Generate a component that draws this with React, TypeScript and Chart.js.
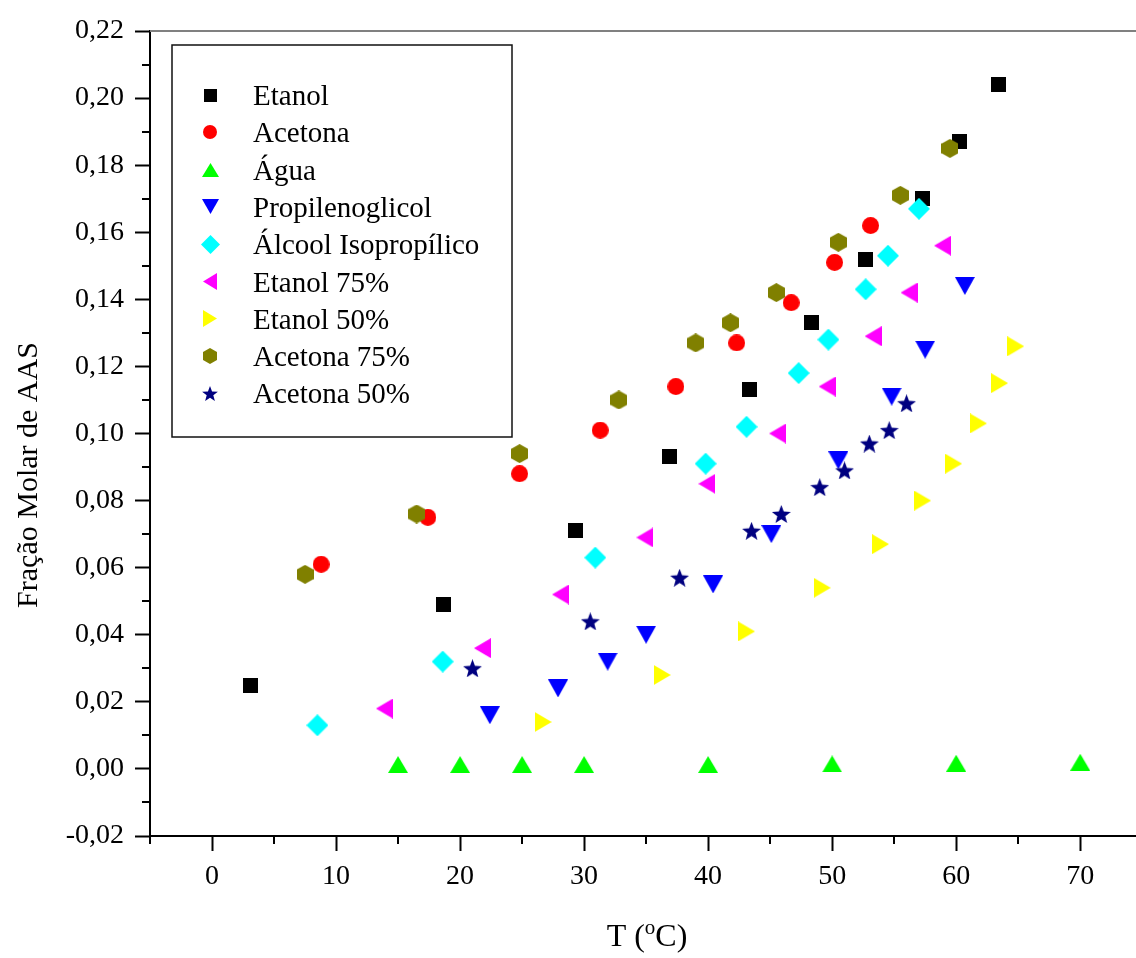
import React, { useEffect, useRef } from 'react';
import { Chart, registerables } from 'chart.js';

Chart.register(...registerables);

// ---------- data ----------
const seriesNames = [
  'Etanol',
  'Acetona',
  'Água',
  'Propilenoglicol',
  'Álcool Isopropílico',
  'Etanol 75%',
  'Etanol 50%',
  'Acetona 75%',
  'Acetona 50%',
];

const etanolX = [3.1, 18.7, 29.3, 36.9, 43.3, 48.3, 52.7, 57.3, 60.3, 63.4];
const etanolY = [0.025, 0.049, 0.071, 0.093, 0.113, 0.133, 0.152, 0.170, 0.187, 0.204];

const acetonaX = [8.8, 17.4, 24.8, 31.3, 37.4, 42.3, 46.7, 50.2, 53.1];
const acetonaY = [0.061, 0.075, 0.088, 0.101, 0.114, 0.127, 0.139, 0.151, 0.162];

const aguaX = [15, 20, 25, 30, 40, 50, 60, 70];
const aguaY = [0.0013, 0.0013, 0.0013, 0.0013, 0.0013, 0.0015, 0.0017, 0.002];

const propX = [22.4, 27.9, 31.9, 35.0, 40.4, 45.1, 50.5, 54.8, 57.5, 60.7];
const propY = [0.016, 0.024, 0.032, 0.040, 0.055, 0.070, 0.092, 0.111, 0.125, 0.144];

const isoX = [8.5, 18.6, 30.9, 39.8, 43.1, 47.3, 49.7, 52.7, 54.5, 57.0];
const isoY = [0.013, 0.032, 0.063, 0.091, 0.102, 0.118, 0.128, 0.143, 0.153, 0.167];

const etanol75X = [13.9, 21.8, 28.1, 34.9, 39.9, 45.6, 49.6, 53.3, 56.2, 58.9];
const etanol75Y = [0.018, 0.036, 0.052, 0.069, 0.085, 0.100, 0.114, 0.129, 0.142, 0.156];

const etanol50X = [26.7, 36.3, 43.1, 49.2, 53.9, 57.3, 59.8, 61.8, 63.5, 64.8];
const etanol50Y = [0.014, 0.028, 0.041, 0.054, 0.067, 0.080, 0.091, 0.103, 0.115, 0.126];

const acetona75X = [7.5, 16.5, 24.8, 32.8, 39.0, 41.8, 45.5, 50.5, 55.5, 59.5];
const acetona75Y = [0.058, 0.076, 0.094, 0.110, 0.127, 0.133, 0.142, 0.157, 0.171, 0.185];

const acetona50X = [21.0, 30.5, 37.7, 43.5, 45.9, 49.0, 51.0, 53.0, 54.6, 56.0];
const acetona50Y = [0.030, 0.044, 0.057, 0.071, 0.076, 0.084, 0.089, 0.097, 0.101, 0.109];

const seriesX = [etanolX, acetonaX, aguaX, propX, isoX, etanol75X, etanol50X, acetona75X, acetona50X];
const seriesY = [etanolY, acetonaY, aguaY, propY, isoY, etanol75Y, etanol50Y, acetona75Y, acetona50Y];
const seriesColors = ['#000000', '#ff0000', '#00ff00', '#0000ff', '#00ffff', '#ff00ff', '#ffff00', '#808000', '#000080'];
const seriesShapes = ['square', 'circle', 'up', 'down', 'diamond', 'left', 'right', 'hexagon', 'star'];

// tick values
const xMajorTicks = [0, 10, 20, 30, 40, 50, 60, 70];
const xMinorTicks = [-5, 5, 15, 25, 35, 45, 55, 65];
const yMajorTicks = [-0.02, 0, 0.02, 0.04, 0.06, 0.08, 0.1, 0.12, 0.14, 0.16, 0.18, 0.2, 0.22];
const yMinorTicks = [-0.01, 0.01, 0.03, 0.05, 0.07, 0.09, 0.11, 0.13, 0.15, 0.17, 0.19, 0.21];

const xTitleMain = 'T (';
const xTitleSup = 'o';
const xTitleEnd = 'C)';
const yTitle = 'Fração Molar de AAS';

const FONT = 'Liberation Serif';

// ---------- markers ----------
const markerDims: Record<string, [number, number]> = {
  square: [15, 15],
  circle: [17, 17],
  up: [20, 17],
  down: [20, 18],
  diamond: [22, 22],
  left: [17, 20],
  right: [17, 20],
  hexagon: [17, 19],
  star: [19, 18],
};

function makeMarker(shape: string, color: string, k: number): HTMLCanvasElement {
  const d = markerDims[shape];
  const w = Math.round(d[0] * k);
  const h = Math.round(d[1] * k);
  const c = document.createElement('canvas');
  c.width = w;
  c.height = h;
  const g = c.getContext('2d') as CanvasRenderingContext2D;
  g.fillStyle = color;
  g.beginPath();
  switch (shape) {
    case 'square':
      g.rect(0, 0, w, h);
      break;
    case 'circle':
      g.arc(w / 2, h / 2, w / 2, 0, Math.PI * 2);
      break;
    case 'up':
      g.moveTo(w / 2, 0);
      g.lineTo(w, h);
      g.lineTo(0, h);
      break;
    case 'down':
      g.moveTo(0, 0);
      g.lineTo(w, 0);
      g.lineTo(w / 2, h);
      break;
    case 'diamond':
      g.moveTo(w / 2, 0);
      g.lineTo(w, h / 2);
      g.lineTo(w / 2, h);
      g.lineTo(0, h / 2);
      break;
    case 'left':
      g.moveTo(0, h / 2);
      g.lineTo(w, 0);
      g.lineTo(w, h);
      break;
    case 'right':
      g.moveTo(0, 0);
      g.lineTo(w, h / 2);
      g.lineTo(0, h);
      break;
    case 'hexagon':
      g.moveTo(w / 2, 0);
      g.lineTo(w, h / 4);
      g.lineTo(w, (3 * h) / 4);
      g.lineTo(w / 2, h);
      g.lineTo(0, (3 * h) / 4);
      g.lineTo(0, h / 4);
      break;
    case 'star': {
      const R = h / (1 + Math.cos(Math.PI / 5));
      const r = R * 0.42;
      const cx = w / 2;
      const cy = R;
      for (let i = 0; i < 10; i++) {
        const rad = i % 2 === 0 ? R : r;
        const a = -Math.PI / 2 + (i * Math.PI) / 5;
        const px = cx + rad * Math.cos(a);
        const py = cy + rad * Math.sin(a);
        if (i === 0) g.moveTo(px, py);
        else g.lineTo(px, py);
      }
      break;
    }
  }
  g.closePath();
  g.fill();
  return c;
}

function fmtY(v: number): string {
  return v.toFixed(2).replace('.', ',');
}

function isMajorX(v: number) {
  return xMajorTicks.some((t) => Math.abs(t - v) < 1e-9);
}
function isMajorY(v: number) {
  return yMajorTicks.some((t) => Math.abs(t - v) < 1e-9);
}

export default function App() {
  const ref = useRef<HTMLCanvasElement | null>(null);

  useEffect(() => {
    if (!ref.current) return;
    const plotMarkers = seriesShapes.map((s, i) => makeMarker(s, seriesColors[i], 1));
    const legendMarkers = seriesShapes.map((s, i) => makeMarker(s, seriesColors[i], 0.85));

    const datasets = seriesNames.map((name, i) => ({
      label: name,
      data: seriesX[i].map((x, j) => ({ x, y: seriesY[i][j] })),
      pointStyle: plotMarkers[i] as any,
      pointRadius: 9,
      pointHoverRadius: 9,
      backgroundColor: seriesColors[i],
      borderColor: seriesColors[i],
      showLine: false,
      order: seriesNames.length - i,
    }));

    const stretch = {
      id: 'stretch',
      afterLayout(chart: any) {
        const xs = chart.scales.x;
        const ca = chart.chartArea;
        ca.right = chart.width;
        ca.width = ca.right - ca.left;
        xs.right = chart.width;
        xs.width = xs.right - xs.left;
        if (typeof xs.configure === 'function') xs.configure();
      },
    };

    const decor = {
      id: 'decor',
      afterDraw(chart: any) {
        const { ctx, chartArea: ca, scales } = chart;
        const xs = scales.x;
        const ys = scales.y;
        ctx.save();
        // top frame line
        ctx.strokeStyle = '#808080';
        ctx.lineWidth = 2;
        ctx.beginPath();
        ctx.moveTo(ca.left, ca.top);
        ctx.lineTo(chart.width, ca.top);
        ctx.stroke();
        // minor ticks
        ctx.strokeStyle = '#000';
        ctx.lineWidth = 2;
        xMinorTicks.forEach((v) => {
          const px = Math.round(xs.getPixelForValue(v));
          ctx.beginPath();
          ctx.moveTo(px, ca.bottom);
          ctx.lineTo(px, ca.bottom + 8);
          ctx.stroke();
        });
        yMinorTicks.forEach((v) => {
          const py = Math.round(ys.getPixelForValue(v));
          ctx.beginPath();
          ctx.moveTo(ca.left, py);
          ctx.lineTo(ca.left - 8, py);
          ctx.stroke();
        });
        // y title
        ctx.fillStyle = '#000';
        ctx.font = `30px "${FONT}"`;
        ctx.textAlign = 'center';
        ctx.textBaseline = 'alphabetic';
        ctx.save();
        ctx.translate(37, 475);
        ctx.rotate(-Math.PI / 2);
        ctx.fillText(yTitle, 0, 0);
        ctx.restore();
        // x title with superscript
        ctx.textAlign = 'left';
        const big = `32px "${FONT}"`;
        const small = `21px "${FONT}"`;
        ctx.font = big;
        const w1 = ctx.measureText(xTitleMain).width;
        const w3 = ctx.measureText(xTitleEnd).width;
        ctx.font = small;
        const w2 = ctx.measureText(xTitleSup).width;
        const total = w1 + w2 + w3;
        let tx = 647 - total / 2;
        const base = 946;
        ctx.font = big;
        ctx.fillText(xTitleMain, tx, base);
        tx += w1;
        ctx.font = small;
        ctx.fillText(xTitleSup, tx, base - 12);
        tx += w2;
        ctx.font = big;
        ctx.fillText(xTitleEnd, tx, base);
        // legend
        const lx = 172, ly = 45, lw = 340, lh = 392;
        ctx.fillStyle = '#fff';
        ctx.fillRect(lx, ly, lw, lh);
        ctx.strokeStyle = '#111';
        ctx.lineWidth = 1.5;
        ctx.strokeRect(lx, ly, lw, lh);
        ctx.font = `29px "${FONT}"`;
        ctx.fillStyle = '#000';
        ctx.textAlign = 'left';
        ctx.textBaseline = 'alphabetic';
        seriesNames.forEach((name, i) => {
          const bl = 105 + i * 37.3;
          const m = legendMarkers[i];
          ctx.drawImage(m, Math.round(210 - m.width / 2), Math.round(bl - 10 - m.height / 2));
          ctx.fillText(name, 253, bl);
        });
        ctx.restore();
      },
    };

    const chart = new Chart(ref.current, {
      type: 'scatter',
      data: { datasets: datasets as any },
      options: {
        animation: false,
        responsive: false,
        maintainAspectRatio: false,
        layout: { padding: { top: 31, right: 0, left: 0, bottom: 0 } },
        plugins: {
          legend: { display: false },
          tooltip: { enabled: false },
        },
        scales: {
          x: {
            type: 'linear',
            position: 'bottom',
            min: -5,
            max: 74.5,
            afterBuildTicks: (s: any) => {
              s.ticks = xMajorTicks.map((v) => ({ value: v }));
            },
            afterFit: (s: any) => {
              s.height = 122;
              s.paddingLeft = 0;
              s.paddingRight = 0;
            },
            ticks: {
              autoSkip: false,
              maxRotation: 0,
              padding: 9,
              color: '#000',
              font: { family: FONT, size: 28 },
              callback: (v: any) => (isMajorX(Number(v)) ? String(v) : ''),
            },
            grid: {
              display: true,
              drawOnChartArea: false,
              drawTicks: true,
              tickLength: 15,
              tickWidth: 2,
              tickColor: '#000',
            },
            border: { display: true, color: '#000', width: 2 },
          },
          y: {
            type: 'linear',
            position: 'left',
            min: -0.02,
            max: 0.22,
            afterBuildTicks: (s: any) => {
              s.ticks = yMajorTicks.map((v) => ({ value: v }));
            },
            afterFit: (s: any) => {
              s.width = 150;
              s.paddingTop = 0;
              s.paddingBottom = 0;
            },
            ticks: {
              autoSkip: false,
              padding: 11,
              color: '#000',
              font: { family: FONT, size: 28 },
              callback: (v: any) => (isMajorY(Number(v)) ? fmtY(Number(v)) : ''),
            },
            grid: {
              display: true,
              drawOnChartArea: false,
              drawTicks: true,
              tickLength: 15,
              tickWidth: 2,
              tickColor: '#000',
            },
            border: { display: true, color: '#000', width: 2 },
          },
        },
      } as any,
      plugins: [stretch, decor],
    });
    return () => chart.destroy();
  }, []);

  return (
    <div style={{ position: 'fixed', left: 0, top: 0, width: 1136, height: 958, background: '#fff' }}>
      <canvas ref={ref} width={1136} height={958} style={{ display: 'block', width: 1136, height: 958 }} />
    </div>
  );
}
